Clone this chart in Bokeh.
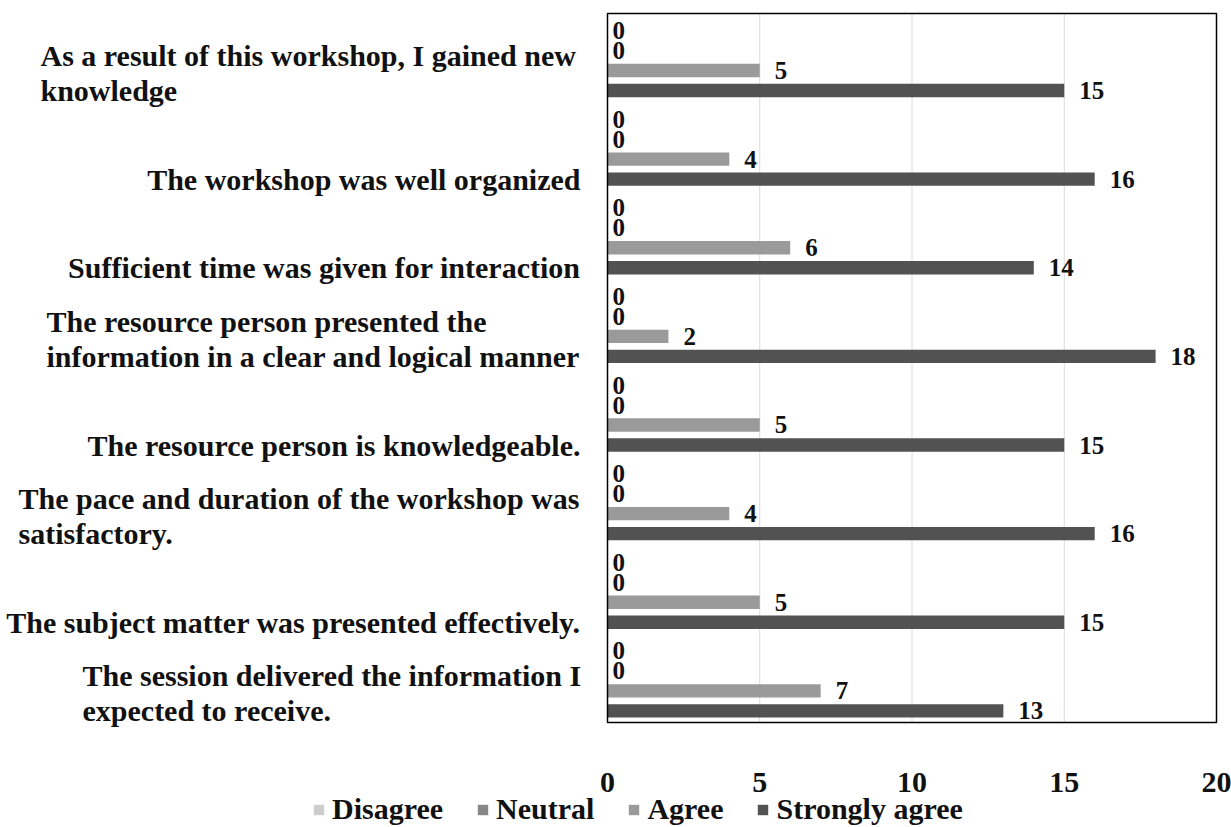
from bokeh.plotting import figure
from bokeh.models import ColumnDataSource, Range1d, Legend, LegendItem
from bokeh.core.properties import value
from bokeh.embed import file_html
from bokeh.resources import INLINE

# ---------------- data ----------------
categories = [
    "As a result of this workshop, I gained new\nknowledge",
    "The workshop was well organized",
    "Sufficient time was given for interaction",
    "The resource person presented the\ninformation in a clear and logical manner",
    "The resource person is knowledgeable.",
    "The pace and duration of the workshop was\nsatisfactory.",
    "The subject matter was presented effectively.",
    "The session delivered the information I\nexpected to receive.",
]
disagree = [0, 0, 0, 0, 0, 0, 0, 0]
neutral = [0, 0, 0, 0, 0, 0, 0, 0]
agree = [5, 4, 6, 2, 5, 4, 5, 7]
strongly_agree = [15, 16, 14, 18, 15, 16, 15, 13]
series_names = ["Disagree", "Neutral", "Agree", "Strongly agree"]
x_ticks = [0, 5, 10, 15, 20]
x_max = 20

# ---------------- layout / styles ----------------
W, H = 1231, 827
BOX_L, BOX_R, BOX_T, BOX_B = 607, 1216, 13, 722      # chart box in canvas px
colors = ["#cdcdcd", "#878787", "#9a9a9a", "#525252"]
offsets = [0.308, 0.082, -0.143, -0.369]            # bar offsets inside a category band
BAR_H = 0.15
FONT = "Liberation Serif"
TXT = "#111111"

n = len(categories)
pxu_x = (BOX_R - BOX_L) / x_max
pxu_y = (BOX_B - BOX_T) / n
x_start = -BOX_L / pxu_x
x_end = x_max + (W - BOX_R) / pxu_x
y_top = n + BOX_T / pxu_y
y_bot = -(H - BOX_B) / pxu_y

p = figure(width=W, height=H, x_range=Range1d(x_start, x_end), y_range=Range1d(y_bot, y_top),
           output_backend="svg", toolbar_location=None,
           x_axis_location=None, y_axis_location=None,
           min_border=0, min_border_left=0, min_border_right=0,
           min_border_top=0, min_border_bottom=0)
p.outline_line_color = None
p.background_fill_color = "white"
p.border_fill_color = "white"
p.grid.visible = False

# category band centres (top category first)
ycen = [n - 0.5 - i for i in range(n)]

# vertical gridlines
inner = [t for t in x_ticks if 0 < t < x_max]
p.segment(x0=inner, y0=[0] * len(inner), x1=inner, y1=[n] * len(inner),
          line_color="#dadada", line_width=1)

renderers = []
for name, vals, col, off in zip(series_names, [disagree, neutral, agree, strongly_agree], colors, offsets):
    src = ColumnDataSource(dict(
        y=[c + off for c in ycen], v=vals,
        lbl=[str(v) for v in vals],
        xo=[5 if v == 0 else 15 for v in vals],
    ))
    r = p.hbar(y="y", left=0, right="v", height=BAR_H, source=src,
               fill_color=col, line_color=None)
    renderers.append(r)
    p.text(x="v", y="y", text="lbl", source=src, x_offset="xo",
           text_baseline="middle", text_align="left",
           text_font=value(FONT), text_font_style="bold",
           text_font_size="25px", text_color=TXT)

# chart box
p.quad(left=[0], right=[x_max], bottom=[0], top=[n], fill_color=None,
       line_color="black", line_width=1.5)

# x tick labels
p.text(x=x_ticks, y=[-(782 - BOX_B) / pxu_y] * len(x_ticks), text=[str(t) for t in x_ticks],
       text_align="center", text_baseline="middle",
       text_font=value(FONT), text_font_style="bold",
       text_font_size="30px", text_color=TXT)

# category labels
left_px = {0: 40, 3: 46, 5: 18, 7: 82}
s_y, s_t, m_y, m_t, m_xo = [], [], [], [], []
for i, c in enumerate(categories):
    if "\n" in c:
        m_y.append(ycen[i] - 15 / pxu_y)
        m_t.append(c)
        m_xo.append(left_px[i] - BOX_L)
    else:
        s_y.append(ycen[i] + offsets[3])
        s_t.append(c)

p.text(x=[0] * len(s_y), y=s_y, text=s_t, x_offset=-27,
       text_align="right", text_baseline="middle",
       text_font=value(FONT), text_font_style="bold",
       text_font_size="30px", text_color=TXT)
p.text(x=[0] * len(m_y), y=m_y, text=m_t, x_offset=m_xo,
       text_align="left", text_baseline="middle", text_line_height=1.07,
       text_font=value(FONT), text_font_style="bold",
       text_font_size="30px", text_color=TXT)

legend = Legend(items=[LegendItem(label=nm, renderers=[r]) for nm, r in zip(series_names, renderers)],
                location=(312, 1), orientation="horizontal",
                glyph_width=13, glyph_height=13, label_standoff=7, spacing=33,
                label_text_font=FONT, label_text_font_style="bold",
                label_text_font_size="30px", label_text_color=TXT,
                padding=0, margin=0, border_line_color=None,
                background_fill_alpha=0)
p.add_layout(legend, "center")

open("out.html", "w").write(file_html(p, INLINE))
